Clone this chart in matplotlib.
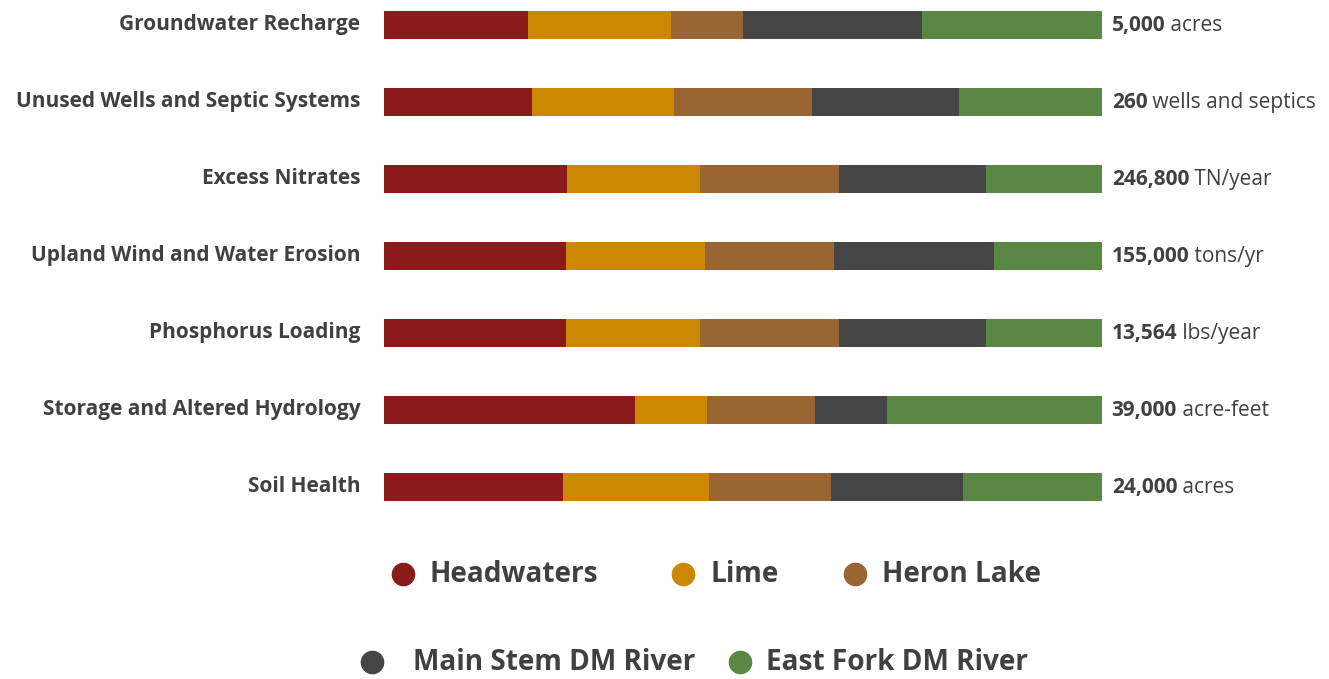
import matplotlib
matplotlib.use("Agg")
import matplotlib.pyplot as plt
import matplotlib.transforms as mtransforms
from matplotlib.lines import Line2D
import numpy as np

plt.rcParams['font.family'] = ['Open Sans', 'DejaVu Sans']

# data (percent share of each subwatershed)
categories = ["Groundwater Recharge", "Unused Wells and Septic Systems", "Excess Nitrates",
              "Upland Wind and Water Erosion", "Phosphorus Loading",
              "Storage and Altered Hydrology", "Soil Health"]
series = ["Headwaters", "Lime", "Heron Lake", "Main Stem DM River", "East Fork DM River"]
headwaters = [20, 20.6, 25.5, 25.3, 25.3, 35, 25]
lime = [20, 19.8, 18.5, 19.4, 18.7, 10, 20.2]
heron_lake = [10, 19.2, 19.4, 18, 19.4, 15, 17.1]
main_stem = [25, 20.5, 20.5, 22.3, 20.5, 10, 18.4]
east_fork = [25, 19.9, 16.1, 15, 16.1, 30, 19.3]
totals = ["5,000", "260", "246,800", "155,000", "13,564", "39,000", "24,000"]
units = ["acres", "wells and septics", "TN/year", "tons/yr", "lbs/year", "acre-feet", "acres"]

colors = ["#8B1A1A", "#CC8800", "#996633", "#454545", "#5A8744"]
txt = "#404040"

W, H = 1329, 679
fig = plt.figure(figsize=(W / 100, H / 100), dpi=100)
ax = fig.add_axes([384 / W, 1 - 510 / H, 718 / W, 508 / H])

y = np.arange(len(categories))
left = np.zeros(len(categories))
for vals, c, name in zip([headwaters, lime, heron_lake, main_stem, east_fork], colors, series):
    vals = np.array(vals, dtype=float)
    ax.barh(y, vals, left=left, height=0.36, color=c, label=name)
    left += vals

ax.set_xlim(0, 100)
ax.set_ylim(6.3, -0.3)
ax.set_xticks([])
ax.set_yticks(y)
ax.set_yticklabels(categories, fontsize=15, fontweight='bold', color=txt)
ax.tick_params(axis='y', length=0, pad=17)
# nudge category labels up a little
up = mtransforms.ScaledTranslation(0, 3 / 100, fig.dpi_scale_trans)
for lbl in ax.get_yticklabels():
    lbl.set_transform(lbl.get_transform() + up)
for s in ax.spines.values():
    s.set_visible(False)

# value labels at the right end
fig.canvas.draw()
r = fig.canvas.get_renderer()
for i in range(len(categories)):
    t = ax.annotate(totals[i], xy=(100, y[i]), xytext=(7, -0.5), textcoords='offset points',
                    fontsize=15, fontweight='bold', color=txt, va='center', ha='left')
    bb = t.get_window_extent(r)
    ax.annotate(" " + units[i], xy=(100, y[i]), xytext=(7 + bb.width * 72 / 100, -0.5),
                textcoords='offset points', fontsize=15, color=txt, va='center', ha='left')

# legend, two rows
rows = [[(0, 403, 430), (1, 683, 710), (2, 855, 882)],
        [(3, 372, 413), (4, 740, 766)]]
row_y = [574, 662]
for row, yy in zip(rows, row_y):
    for k, cx, tx in row:
        fig.add_artist(Line2D([cx / W], [1 - yy / H], marker='o', markersize=16,
                              color=colors[k], linestyle='none', transform=fig.transFigure))
        fig.text(tx / W, 1 - yy / H, series[k], fontsize=20.2, fontweight='bold',
                 color=txt, va='center', ha='left')

fig.savefig("out.png", dpi=100)
